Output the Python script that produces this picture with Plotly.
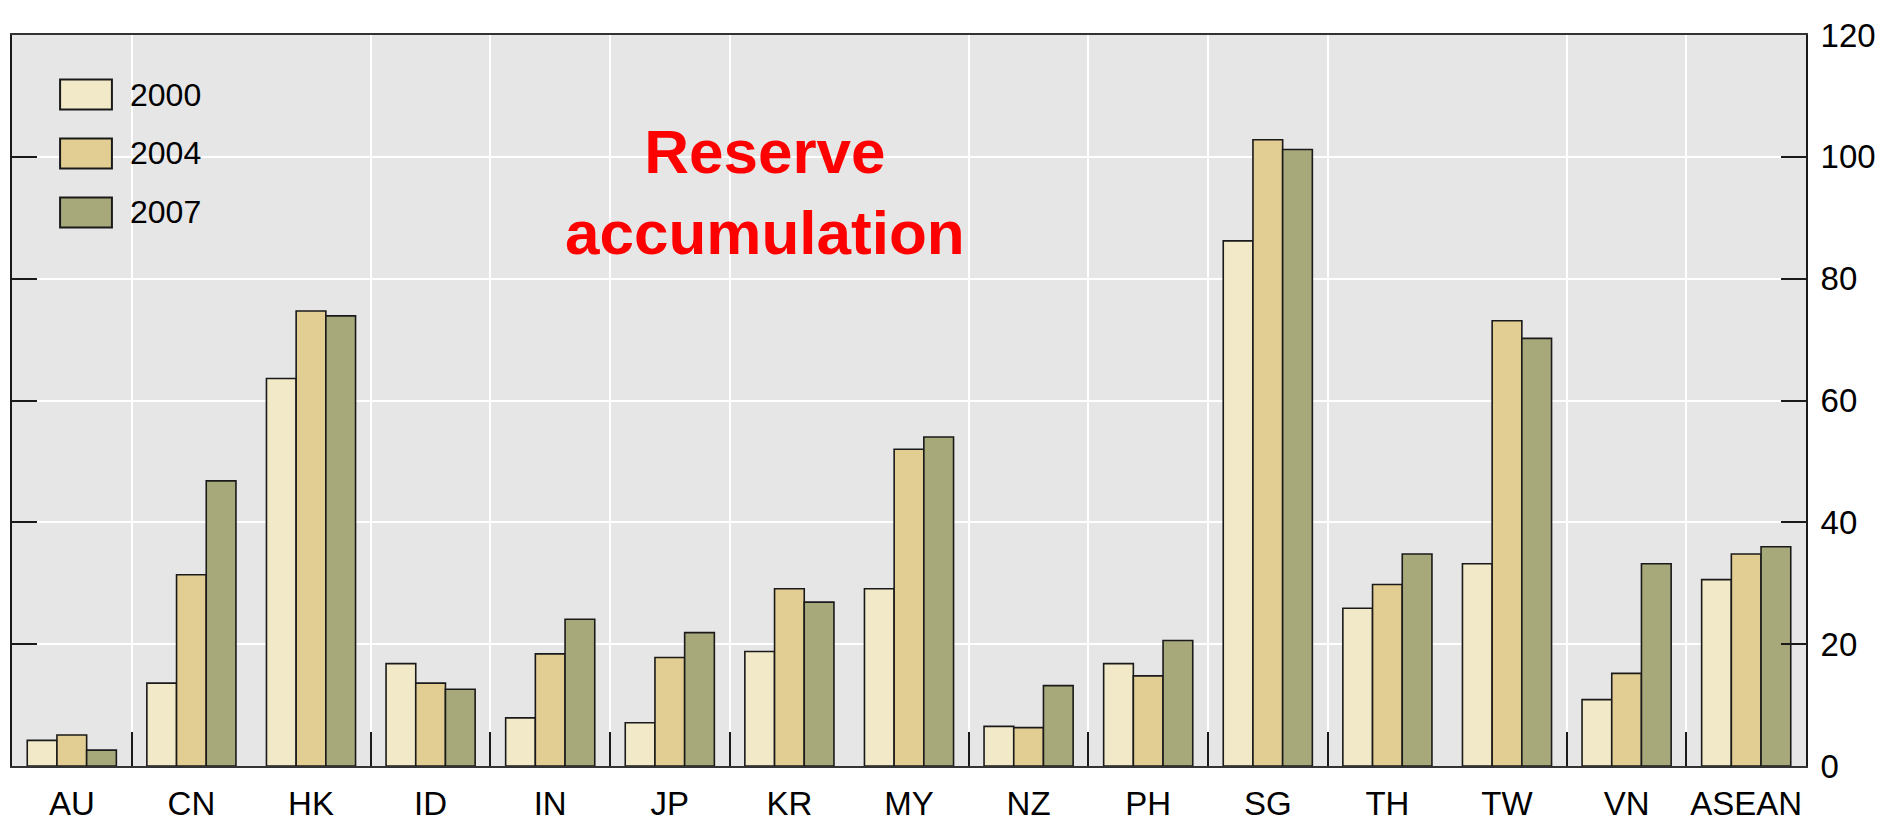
import plotly.graph_objects as go

# ---- data ----
categories = ["AU", "CN", "HK", "ID", "IN", "JP", "KR", "MY", "NZ", "PH",
              "SG", "TH", "TW", "VN", "ASEAN"]
series_names = ["2000", "2004", "2007"]
values_2000 = [4.2, 13.6, 63.6, 16.8, 7.9, 7.1, 18.8, 29.1, 6.5, 16.8, 86.2, 25.9, 33.2, 10.9, 30.6]
values_2004 = [5.1, 31.4, 74.7, 13.6, 18.4, 17.8, 29.1, 52.0, 6.3, 14.8, 102.8, 29.8, 73.1, 15.2, 34.8]
values_2007 = [2.6, 46.8, 73.9, 12.6, 24.1, 21.9, 26.9, 54.0, 13.2, 20.6, 101.2, 34.8, 70.2, 33.2, 36.0]
y_ticks = [0, 20, 40, 60, 80, 100, 120]
title_text = "Reserve<br>accumulation"

series_values = [values_2000, values_2004, values_2007]
colors = ["#F2E9C8", "#E2CE92", "#A8A97B"]

FONT = "Liberation Sans, Arial, sans-serif"

x_pos = list(range(len(categories)))
separators = [i + 0.5 for i in range(len(categories) - 1) if i % 5 != 1]

fig = go.Figure()
for name, vals, col in zip(series_names, series_values, colors):
    fig.add_trace(go.Bar(
        x=x_pos, y=vals, name=name,
        marker=dict(color=col, line=dict(color="#1a1a1a", width=1.6)),
        showlegend=False,
    ))

# custom legend (large swatches like the reference)
leg_x0, leg_x1, leg_text_x = 0.0268, 0.0557, 0.0644
leg_y_top, leg_step, leg_half = 0.9186, 0.0807, 0.0205
shapes = []
annotations = []
for i, (name, col) in enumerate(zip(series_names, colors)):
    yc = leg_y_top - i * leg_step
    shapes.append(dict(type="rect", xref="paper", yref="paper",
                       x0=leg_x0, x1=leg_x1, y0=yc - leg_half, y1=yc + leg_half,
                       fillcolor=col, line=dict(color="#1a1a1a", width=2), layer="above"))
    annotations.append(dict(text=name, xref="paper", yref="paper", x=leg_text_x, y=yc,
                            xanchor="left", yanchor="middle", showarrow=False,
                            font=dict(family=FONT, size=32, color="black")))

annotations.append(dict(text="<b>" + title_text + "</b>", xref="paper", yref="paper",
                        x=0.420, y=0.785, xanchor="center", yanchor="middle",
                        showarrow=False, align="center",
                        font=dict(family=FONT, size=62, color="#FF0000")))

fig.update_layout(
    width=1880, height=815,
    margin=dict(l=4, r=82, t=27, b=57, autoexpand=False),
    paper_bgcolor="white", plot_bgcolor="#E6E6E6",
    barmode="group", bargap=0.255, bargroupgap=0,
    shapes=shapes, annotations=annotations,
    xaxis=dict(
        range=[-0.5, len(categories) - 0.5], automargin=False,
        tickmode="array", tickvals=x_pos, ticktext=categories,
        ticks="", showgrid=False, zeroline=False,
        showline=True, linecolor="#333333", linewidth=2, mirror=True,
        tickfont=dict(family=FONT, size=33, color="black"),
        ticklabelstandoff=7,
        minor=dict(tickmode="array", tickvals=separators, ticks="inside",
                   ticklen=34, tickwidth=2, tickcolor="#1a1a1a",
                   showgrid=True, gridcolor="white", gridwidth=2),
    ),
    yaxis=dict(
        side="right", range=[0, 120], tickmode="array", tickvals=y_ticks,
        automargin=False,
        ticks="inside", ticklen=25, tickwidth=2, tickcolor="#1a1a1a",
        showline=True, linecolor="#1a1a1a", linewidth=2, mirror="ticks",
        showgrid=True, gridcolor="white", gridwidth=2, zeroline=False,
        ticklabelstandoff=6,
        tickfont=dict(family=FONT, size=33, color="black"),
    ),
)

fig.write_html("out.html")
